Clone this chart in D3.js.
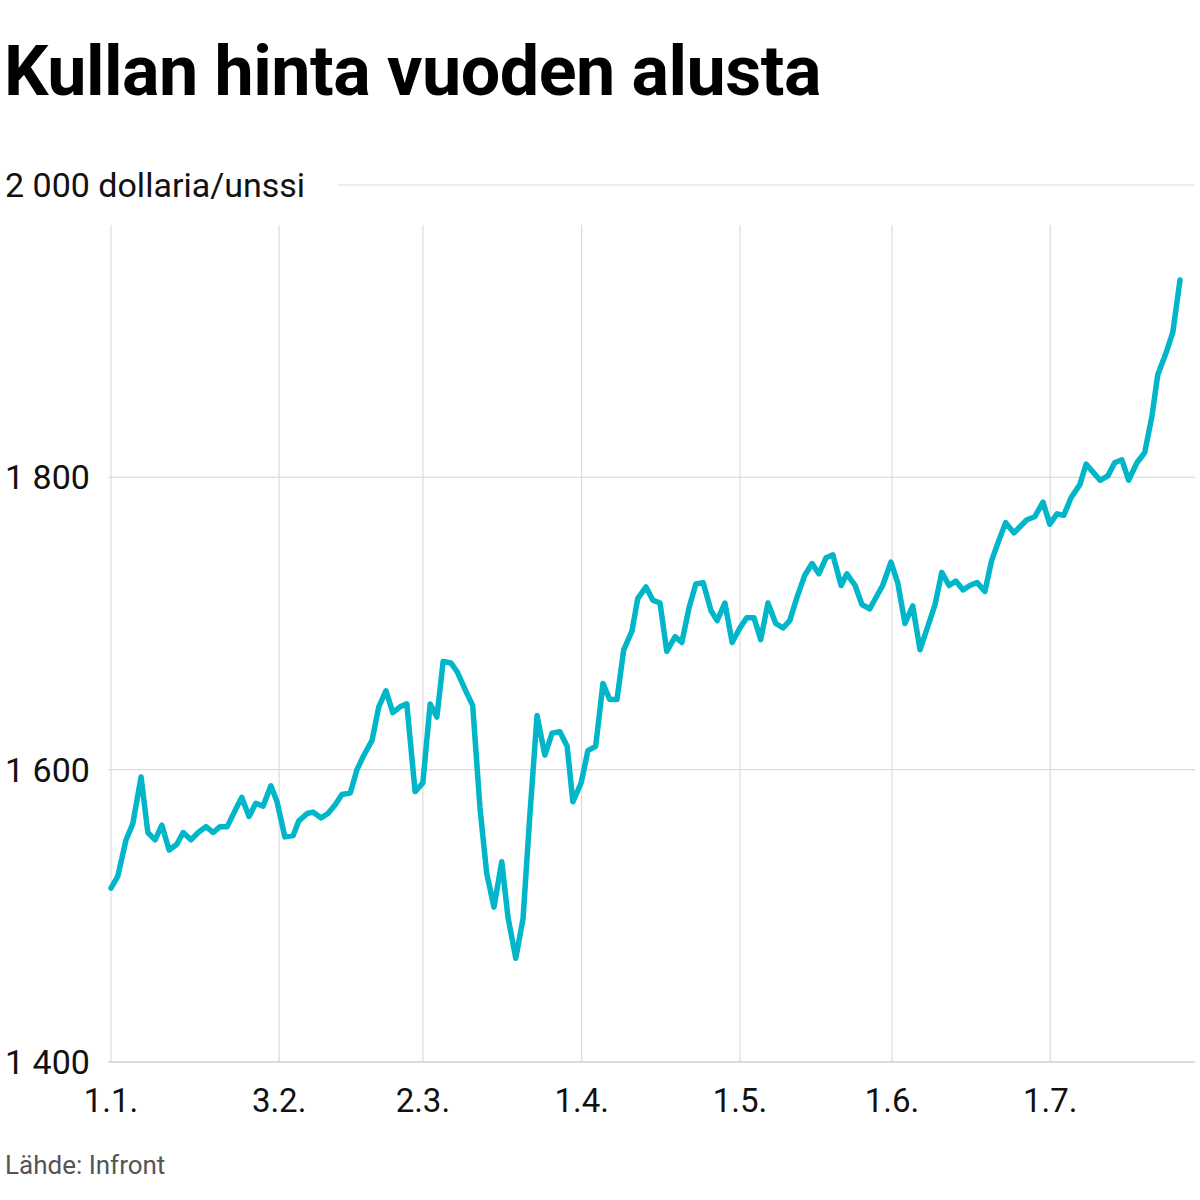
<!DOCTYPE html>
<html><head><meta charset="utf-8">
<script src="https://cdn.jsdelivr.net/npm/d3@7"></script>
<style>body{margin:0;background:#fff}svg{font-family:Roboto,sans-serif}</style>
</head><body><svg id="c" width="1200" height="1200"></svg>
<script>
// Day offset from 1 Jan 2020, price in USD/oz
const days=[0,1.3,2.9,4.2,5.8,7.1,8.5,9.8,11.2,12.7,13.9,15.4,16.8,18.3,19.7,21.0,22.4,23.9,25.2,26.6,27.9,29.3,30.8,32.0,33.5,35.1,36.2,37.8,38.9,40.5,41.8,43.2,44.5,46.1,47.4,48.6,50.3,51.6,53.0,54.3,55.7,57.0,58.6,60.1,61.5,62.8,64.0,65.5,66.7,68.6,69.7,71.1,72.4,73.8,75.3,76.5,78.0,79.4,80.7,82.1,83.6,85.0,86.5,87.9,89.0,90.6,91.9,93.4,94.8,96.1,97.5,98.8,100.4,101.5,103.1,104.4,105.8,107.1,108.7,110.0,111.4,112.7,114.1,115.6,116.8,118.3,119.7,121.2,122.5,123.9,125.2,126.6,128.1,129.5,130.8,132.2,133.7,135.1,136.4,137.8,139.1,140.7,141.8,143.4,144.7,146.2,147.6,148.7,150.3,151.6,153.0,154.5,155.9,158.8,160.1,161.5,162.8,164.2,165.5,166.9,168.4,169.7,170.9,172.4,174.0,176.5,178.0,179.6,180.9,182.3,183.6,185.0,186.7,187.9,190.6,192.1,193.4,194.8,196.1,197.7,199.2,200.6,201.7,203.3,204.6,206.0];
const prices=[1519,1527,1552,1563,1595,1557,1552,1562,1545,1549,1557,1552,1557,1561,1557,1561,1561,1572,1581,1568,1577,1575,1589,1578,1554,1555,1565,1570,1571,1567,1570,1576,1583,1584,1600,1609,1620,1643,1654,1639,1643,1645,1585,1591,1645,1636,1674,1673,1667,1652,1644,1574,1529,1506,1537,1499,1471,1498,1568,1637,1610,1625,1626,1616,1578,1591,1613,1616,1659,1648,1648,1682,1695,1717,1725,1716,1714,1681,1691,1687,1711,1727,1728,1709,1702,1714,1687,1697,1704,1704,1689,1714,1700,1697,1702,1718,1733,1741,1734,1745,1747,1726,1734,1726,1713,1710,1719,1726,1742,1728,1700,1712,1682,1713,1735,1726,1729,1723,1726,1728,1722,1743,1755,1769,1762,1771,1773,1783,1768,1775,1774,1786,1795,1809,1798,1801,1810,1812,1798,1810,1817,1842,1870,1885,1899,1935];
const tickDays=[0,32.4,60.1,90.7,121.2,150.5,181];
const tickLabels=["1.1.","3.2.","2.3.","1.4.","1.5.","1.6.","1.7."];
const yTicks=[1400,1600,1800,2000];
const yLabels=["1 400","1 600","1 800","2 000 dollaria/unssi"];

const svg=d3.select("#c");
const x=d3.scaleLinear().domain([0,206]).range([111,1180]);
const y=d3.scaleLinear().domain([1400,2000]).range([1062,185]);

svg.append("text").attr("x",4).attr("y",95).attr("font-size",70).attr("font-weight",700)
  .attr("fill","#000").attr("letter-spacing","-0.5").text("Kullan hinta vuoden alusta");

svg.append("g").selectAll("line").data(tickDays).join("line")
  .attr("x1",d=>x(d)).attr("x2",d=>x(d)).attr("y1",225).attr("y2",1062)
  .attr("stroke","#dcdcdc").attr("stroke-width",1.2);
svg.append("g").selectAll("line").data(yTicks).join("line")
  .attr("x1",d=>d===2000?338:108).attr("x2",1195).attr("y1",d=>y(d)).attr("y2",d=>y(d))
  .attr("stroke",d=>d===1400?"#bbb":"#dcdcdc").attr("stroke-width",1.2);
svg.append("g").selectAll("text").data(yTicks).join("text")
  .attr("x",5).attr("y",d=>y(d)+12).attr("font-size",34).attr("fill","#111")
  .text((d,i)=>yLabels[i]);
svg.append("g").selectAll("text").data(tickDays).join("text")
  .attr("x",d=>x(d)).attr("y",1112).attr("text-anchor","middle").attr("font-size",33).attr("fill","#111")
  .text((d,i)=>tickLabels[i]);

const data=days.map((d,i)=>[d,prices[i]]);
svg.append("path").datum(data)
  .attr("d",d3.line().x(d=>x(d[0])).y(d=>y(d[1])))
  .attr("fill","none").attr("stroke","#00b6c8").attr("stroke-width",5.5)
  .attr("stroke-linejoin","round").attr("stroke-linecap","round");

svg.append("text").attr("x",5).attr("y",1174).attr("font-size",26).attr("fill","#555").text("Lähde: Infront");
</script></body></html>
